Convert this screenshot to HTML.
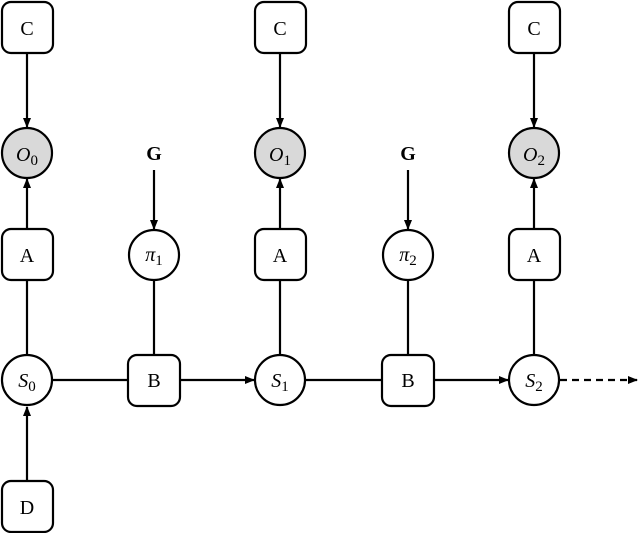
<!DOCTYPE html>
<html><head><style>body{margin:0;background:#fff}</style></head><body>
<svg width="640" height="533" viewBox="0 0 640 533" xmlns="http://www.w3.org/2000/svg" font-family="Liberation Serif, serif" font-size="20">
<defs><marker id="a" markerWidth="10" markerHeight="10" refX="9" refY="5" orient="auto" markerUnits="userSpaceOnUse"><path d="M0,1 L10,5 L0,9 z" fill="#000"/></marker></defs>
<g stroke="#000" stroke-width="2.2" fill="none">
<!-- columns -->
<g id="col">
</g>
<line x1="27" y1="54" x2="27" y2="127" marker-end="url(#a)"/>
<line x1="27" y1="228" x2="27" y2="179" marker-end="url(#a)"/>
<line x1="27" y1="355" x2="27" y2="280"/>
<line x1="27" y1="480" x2="27" y2="407" marker-end="url(#a)"/>
<line x1="280" y1="54" x2="280" y2="127" marker-end="url(#a)"/>
<line x1="280" y1="228" x2="280" y2="179" marker-end="url(#a)"/>
<line x1="280" y1="355" x2="280" y2="280"/>
<line x1="534" y1="54" x2="534" y2="127" marker-end="url(#a)"/>
<line x1="534" y1="228" x2="534" y2="179" marker-end="url(#a)"/>
<line x1="534" y1="355" x2="534" y2="280"/>
<line x1="154" y1="170" x2="154" y2="229" marker-end="url(#a)"/>
<line x1="154" y1="281" x2="154" y2="354"/>
<line x1="408" y1="170" x2="408" y2="229" marker-end="url(#a)"/>
<line x1="408" y1="281" x2="408" y2="354"/>
<line x1="53" y1="380" x2="128" y2="380"/>
<line x1="180" y1="380" x2="254" y2="380" marker-end="url(#a)"/>
<line x1="306" y1="380" x2="382" y2="380"/>
<line x1="434" y1="380" x2="508" y2="380" marker-end="url(#a)"/>
<line x1="560" y1="380" x2="637" y2="380" stroke-dasharray="7,5" marker-end="url(#a)"/>
<!-- boxes -->
<rect x="2" y="2" width="51" height="51" rx="9" fill="#fff"/>
<rect x="255" y="2" width="51" height="51" rx="9" fill="#fff"/>
<rect x="509" y="2" width="51" height="51" rx="9" fill="#fff"/>
<rect x="2" y="229" width="51" height="51" rx="9" fill="#fff"/>
<rect x="255" y="229" width="51" height="51" rx="9" fill="#fff"/>
<rect x="509" y="229" width="51" height="51" rx="9" fill="#fff"/>
<rect x="128" y="355" width="52" height="51" rx="9" fill="#fff"/>
<rect x="382" y="355" width="52" height="51" rx="9" fill="#fff"/>
<rect x="2" y="481" width="51" height="51" rx="9" fill="#fff"/>
<circle cx="27" cy="153" r="25" fill="#d9d9d9"/>
<circle cx="280" cy="153" r="25" fill="#d9d9d9"/>
<circle cx="534" cy="153" r="25" fill="#d9d9d9"/>
<circle cx="154" cy="255" r="25" fill="#fff"/>
<circle cx="408" cy="255" r="25" fill="#fff"/>
<circle cx="27" cy="380" r="25" fill="#fff"/>
<circle cx="280" cy="380" r="25" fill="#fff"/>
<circle cx="534" cy="380" r="25" fill="#fff"/>
</g>
<g text-anchor="middle" fill="#000">
<text x="27" y="35">C</text><text x="280" y="35">C</text><text x="534" y="35">C</text>
<text x="27" y="262">A</text><text x="280" y="262">A</text><text x="534" y="262">A</text>
<text x="154" y="387">B</text><text x="408" y="387">B</text>
<text x="27" y="514">D</text>
<text x="154" y="160" font-weight="bold">G</text><text x="408" y="160" font-weight="bold">G</text>
<text x="27" y="161" font-style="italic">O<tspan font-style="normal" font-size="15" dy="4">0</tspan></text>
<text x="280" y="161" font-style="italic">O<tspan font-style="normal" font-size="15" dy="4">1</tspan></text>
<text x="534" y="161" font-style="italic">O<tspan font-style="normal" font-size="15" dy="4">2</tspan></text>
<text x="154" y="261" font-style="italic">π<tspan font-style="normal" font-size="15" dy="4">1</tspan></text>
<text x="408" y="261" font-style="italic">π<tspan font-style="normal" font-size="15" dy="4">2</tspan></text>
<text x="27" y="387" font-style="italic">S<tspan font-style="normal" font-size="15" dy="4">0</tspan></text>
<text x="280" y="387" font-style="italic">S<tspan font-style="normal" font-size="15" dy="4">1</tspan></text>
<text x="534" y="387" font-style="italic">S<tspan font-style="normal" font-size="15" dy="4">2</tspan></text>
</g>
</svg>
</body></html>
